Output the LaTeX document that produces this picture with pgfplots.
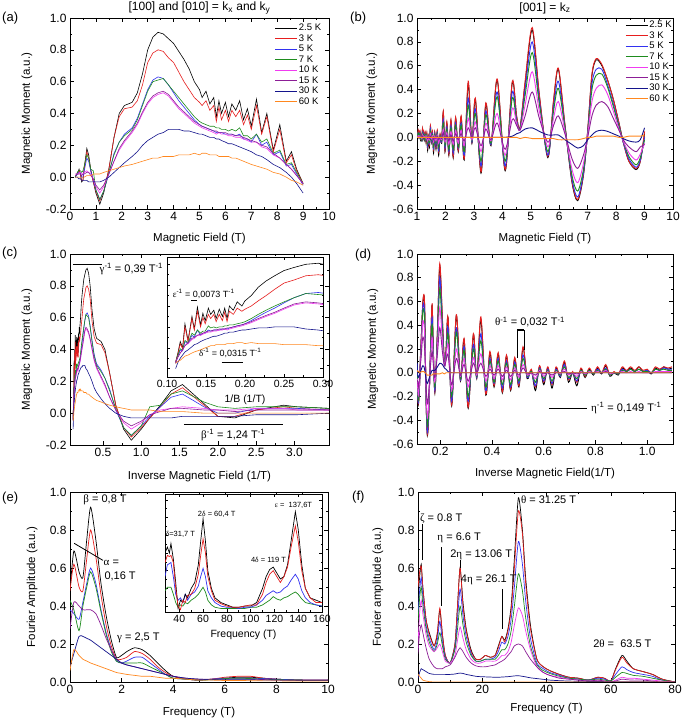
\documentclass[border=0pt]{standalone}
\usepackage{fontspec}
\setmainfont{Liberation Sans}
\newfontfamily\grk{Liberation Serif}
\usepackage{pgfplots}
\usepackage{pgfplotstable}
\pgfplotsset{compat=1.18}
\newcommand{\fs}[1]{\fontsize{#1bp}{#1bp}\selectfont}
\newcommand{\g}[1]{{\grk #1}}
\newcommand{\inv}{\textsuperscript{-1}}

\definecolor{cK}{RGB}{0,0,0}
\definecolor{cR}{RGB}{230,30,30}
\definecolor{cB}{RGB}{50,50,240}
\definecolor{cG}{RGB}{30,140,30}
\definecolor{cM}{RGB}{240,60,240}
\definecolor{cP}{RGB}{140,30,150}
\definecolor{cN}{RGB}{20,20,140}
\definecolor{cO}{RGB}{255,135,30}

\pgfplotsset{
  base/.style={
    scale only axis, axis background/.style={fill=white},
    tick align=inside, major tick length=4bp, minor tick length=2bp,
    tick style={black, line width=0.5bp}, axis line style={black, line width=0.6bp},
    tick label style={font=\fs{12}}, label style={font=\fs{11.5}},
    /pgf/number format/assume math mode=true,
    minor x tick num=1, minor y tick num=1,
    xlabel style={anchor=center}, ylabel style={anchor=center},
    legend cell align=left,
    legend style={draw=none, fill=none, font=\fs{9.5}, inner sep=0pt, row sep=0pt, nodes={inner sep=1.2bp}},
    legend image code/.code={\draw[##1, line width=0.8bp] (0bp,0bp) -- (22bp,0bp);},
  },
  yfix/.style={yticklabel style={/pgf/number format/fixed, /pgf/number format/fixed zerofill, /pgf/number format/precision=#1}},
  xfix/.style={xticklabel style={/pgf/number format/fixed, /pgf/number format/fixed zerofill, /pgf/number format/precision=#1}},
}

% field sweeps along [100]/[010]: B, 1/B, then 2.5,3,5,7,10,15,30,60 K
\pgfplotstableread{
B iB t1 t2 t3 t4 t5 t6 t7 t8
0.20 5.000 0.00 0.00 0.00 0.00 0.02 0.01 0.00 0.00
0.29 3.448 0.03 0.02 0.02 0.03 0.02 0.02 0.00 0.00
0.33 3.030 0.04 0.03 0.03 0.04 0.02 0.02 -0.01 0.00
0.35 2.857 0.05 0.04 0.03 0.04 0.03 0.02 -0.01 0.00
0.40 2.500 0.02 0.02 0.03 0.04 0.03 0.02 -0.01 0.00
0.45 2.222 -0.03 -0.02 0.00 0.03 0.02 0.01 -0.02 0.00
0.50 2.000 -0.02 -0.02 0.00 0.04 0.02 0.02 -0.02 0.00
0.55 1.818 0.06 0.05 0.04 0.07 0.03 0.02 -0.02 0.00
0.65 1.538 0.18 0.16 0.12 0.14 0.04 0.03 -0.02 0.01
0.72 1.389 0.14 0.12 0.10 0.12 0.03 0.03 -0.03 0.01
0.80 1.250 0.05 0.04 0.04 0.05 0.02 0.01 -0.03 0.01
0.90 1.111 -0.03 -0.03 -0.02 0.04 -0.01 -0.01 -0.03 0.02
1.00 1.000 -0.10 -0.09 -0.08 -0.08 -0.06 -0.05 -0.03 0.02
1.15 0.870 -0.17 -0.15 -0.14 -0.14 -0.10 -0.08 -0.03 0.02
1.30 0.769 -0.10 -0.09 -0.09 -0.09 -0.06 -0.05 -0.02 0.03
1.50 0.667 0.05 0.05 0.02 0.03 0.02 0.02 0.00 0.04
1.70 0.588 0.25 0.25 0.15 0.14 0.10 0.10 0.03 0.05
1.90 0.526 0.40 0.38 0.22 0.22 0.17 0.18 0.06 0.06
2.10 0.476 0.45 0.43 0.27 0.26 0.22 0.23 0.09 0.07
2.40 0.417 0.47 0.44 0.31 0.30 0.28 0.29 0.13 0.08
2.60 0.385 0.53 0.48 0.37 0.36 0.33 0.34 0.16 0.09
2.80 0.357 0.65 0.58 0.46 0.45 0.40 0.41 0.20 0.10
3.00 0.333 0.80 0.72 0.55 0.54 0.46 0.47 0.23 0.11
3.20 0.3125 0.88 0.78 0.61 0.60 0.50 0.51 0.25 0.12
3.40 0.294 0.91 0.80 0.63 0.61 0.52 0.53 0.27 0.12
3.60 0.278 0.90 0.79 0.62 0.62 0.53 0.54 0.28 0.13
3.80 0.263 0.87 0.75 0.58 0.58 0.51 0.52 0.30 0.13
4.00 0.250 0.84 0.72 0.53 0.54 0.47 0.48 0.30 0.13
4.20 0.238 0.79 0.66 0.48 0.50 0.43 0.44 0.30 0.14
4.40 0.227 0.74 0.60 0.44 0.46 0.40 0.41 0.29 0.14
4.60 0.217 0.68 0.55 0.40 0.42 0.37 0.38 0.29 0.14
4.80 0.208 0.60 0.50 0.36 0.38 0.34 0.35 0.28 0.15
5.00 0.200 0.55 0.47 0.33 0.35 0.32 0.33 0.27 0.14
5.10 0.196 0.50 0.45 0.32 0.34 0.31 0.32 0.27 0.15
5.25 0.190 0.54 0.48 0.31 0.33 0.30 0.31 0.26 0.15
5.40 0.185 0.46 0.42 0.30 0.32 0.29 0.30 0.25 0.14
5.55 0.180 0.50 0.45 0.29 0.32 0.28 0.29 0.25 0.14
5.65 0.177 0.38 0.35 0.28 0.31 0.27 0.29 0.24 0.14
5.75 0.174 0.48 0.44 0.28 0.31 0.28 0.28 0.24 0.13
5.85 0.171 0.40 0.36 0.28 0.30 0.27 0.28 0.23 0.13
6.00 0.167 0.47 0.42 0.27 0.30 0.27 0.28 0.22 0.13
6.12 0.163 0.38 0.35 0.27 0.29 0.26 0.27 0.21 0.13
6.25 0.160 0.46 0.42 0.27 0.30 0.26 0.27 0.21 0.12
6.40 0.156 0.42 0.38 0.26 0.29 0.25 0.26 0.20 0.12
6.55 0.153 0.48 0.42 0.27 0.31 0.25 0.26 0.19 0.11
6.70 0.149 0.36 0.33 0.24 0.26 0.24 0.25 0.18 0.10
6.85 0.146 0.43 0.39 0.24 0.26 0.23 0.24 0.17 0.09
7.00 0.143 0.32 0.30 0.22 0.24 0.22 0.23 0.16 0.08
7.20 0.139 0.49 0.45 0.27 0.27 0.22 0.22 0.14 0.07
7.40 0.135 0.28 0.27 0.20 0.22 0.19 0.20 0.13 0.06
7.60 0.132 0.40 0.38 0.22 0.24 0.18 0.19 0.11 0.05
7.85 0.127 0.17 0.16 0.14 0.15 0.14 0.15 0.08 0.03
8.10 0.123 0.33 0.30 0.16 0.17 0.12 0.12 0.06 0.02
8.35 0.120 0.10 0.09 0.07 0.08 0.08 0.08 0.03 0.00
8.55 0.117 0.16 0.14 0.08 0.09 0.05 0.05 0.00 -0.02
8.75 0.114 0.05 0.04 0.02 0.03 0.01 0.01 -0.04 -0.03
9.00 0.111 -0.04 -0.04 -0.05 -0.04 -0.04 -0.04 -0.10 -0.05
}\tabA

% field sweeps along [001]
\pgfplotstableread{
B iB t1 t2 t3 t4 t5 t6 t7 t8
0.912 1.096 0.04 0.05 0.03 0.02 0.01 0.00 0.00 0.00
0.925 1.080 0.03 0.04 0.03 0.02 0.01 0.00 0.00 0.00
0.940 1.064 0.05 0.05 0.04 0.03 0.01 0.00 0.00 0.00
0.954 1.048 0.02 0.03 0.02 0.02 0.01 0.00 0.00 0.00
0.969 1.032 0.04 0.05 0.03 0.03 0.01 0.00 0.00 0.00
0.984 1.016 -0.01 0.00 0.00 0.00 0.00 0.00 0.00 0.00
1.000 1.000 0.02 0.03 0.02 0.01 0.00 0.00 0.00 0.00
1.016 0.984 0.01 0.02 0.01 0.01 0.00 0.00 0.00 0.00
1.033 0.968 0.05 0.05 0.03 0.03 0.01 0.00 0.00 0.00
1.050 0.952 0.01 0.02 0.01 0.01 0.00 0.00 0.00 0.00
1.068 0.936 0.04 0.05 0.03 0.03 0.01 0.00 0.00 0.00
1.087 0.920 0.01 0.02 0.01 0.01 0.00 0.00 0.00 0.00
1.106 0.904 0.04 0.05 0.03 0.02 0.01 0.00 0.00 0.00
1.126 0.888 -0.02 -0.01 -0.01 -0.01 0.00 0.00 0.00 0.00
1.147 0.872 0.00 0.01 0.00 0.00 0.00 0.00 0.00 0.00
1.168 0.856 -0.03 -0.02 -0.02 -0.02 -0.01 0.00 0.00 0.00
1.190 0.840 0.06 0.07 0.04 0.03 0.02 0.01 0.00 0.00
1.214 0.824 -0.01 0.00 0.00 0.00 0.00 0.00 0.00 0.00
1.238 0.808 0.04 0.05 0.03 0.02 0.01 0.00 0.00 0.00
1.263 0.792 -0.02 -0.01 -0.01 -0.01 0.00 0.00 0.00 0.00
1.289 0.776 0.03 0.04 0.02 0.02 0.01 0.00 0.00 0.00
1.316 0.760 -0.04 -0.03 -0.02 -0.02 -0.01 0.00 0.00 0.00
1.344 0.744 0.03 0.04 0.02 0.02 0.01 0.00 0.00 0.00
1.374 0.728 -0.11 -0.08 -0.07 -0.05 -0.03 -0.01 0.00 0.00
1.404 0.712 0.00 0.01 0.00 0.00 0.00 0.00 0.00 0.00
1.437 0.696 -0.08 -0.06 -0.05 -0.04 -0.02 -0.01 0.00 0.00
1.471 0.680 0.09 0.10 0.07 0.05 0.03 0.01 0.00 0.00
1.506 0.664 -0.04 -0.03 -0.03 -0.02 -0.01 0.00 0.00 0.00
1.543 0.648 0.04 0.05 0.03 0.02 0.01 0.00 0.00 0.00
1.582 0.632 -0.13 -0.10 -0.09 -0.07 -0.04 -0.02 0.00 0.00
1.623 0.616 0.04 0.05 0.03 0.02 0.01 0.00 0.00 0.00
1.667 0.600 -0.10 -0.08 -0.07 -0.05 -0.03 -0.01 0.00 0.00
1.712 0.584 0.05 0.06 0.04 0.03 0.02 0.01 0.00 0.00
1.761 0.568 -0.15 -0.12 -0.11 -0.08 -0.05 -0.02 0.00 0.00
1.812 0.552 0.02 0.03 0.01 0.01 0.00 0.00 0.00 0.00
1.866 0.536 -0.05 -0.04 -0.04 -0.03 -0.02 -0.01 0.00 0.00
1.923 0.520 0.21 0.22 0.15 0.12 0.07 0.04 0.00 0.00
1.984 0.504 -0.12 -0.11 -0.09 -0.07 -0.04 -0.02 0.00 0.00
2.049 0.488 0.12 0.13 0.09 0.07 0.04 0.02 0.00 0.00
2.119 0.472 -0.15 -0.14 -0.12 -0.10 -0.06 -0.03 0.00 0.00
2.193 0.456 0.14 0.15 0.10 0.08 0.05 0.02 0.00 0.00
2.273 0.440 -0.17 -0.16 -0.13 -0.10 -0.06 -0.03 0.00 0.00
2.358 0.424 0.16 0.17 0.12 0.10 0.06 0.03 0.00 0.00
2.451 0.408 -0.12 -0.11 -0.09 -0.08 -0.05 -0.02 0.00 0.00
2.551 0.392 0.17 0.18 0.12 0.10 0.06 0.03 0.00 0.00
2.660 0.376 -0.19 -0.18 -0.15 -0.12 -0.07 -0.03 0.00 0.00
2.800 0.357 0.45 0.47 0.33 0.27 0.16 0.08 0.00 0.00
2.930 0.341 -0.05 -0.04 -0.04 -0.03 -0.02 0.00 0.00 0.00
3.050 0.328 0.32 0.33 0.24 0.20 0.13 0.08 0.00 0.00
3.250 0.308 -0.30 -0.29 -0.24 -0.20 -0.12 -0.07 0.00 0.00
3.420 0.292 0.28 0.29 0.22 0.19 0.12 0.07 0.00 0.00
3.600 0.278 -0.07 -0.06 -0.06 -0.05 -0.03 -0.02 0.00 0.00
3.820 0.262 0.48 0.49 0.38 0.34 0.20 0.12 0.00 0.00
4.100 0.244 -0.28 -0.27 -0.24 -0.20 -0.15 -0.10 0.00 0.00
4.350 0.230 0.46 0.47 0.38 0.33 0.24 0.15 0.01 0.00
4.500 0.222 0.18 0.18 0.15 0.13 0.12 0.10 0.03 0.00
4.620 0.216 0.08 0.08 0.07 0.07 0.06 0.06 0.04 -0.01
4.800 0.208 0.45 0.47 0.40 0.35 0.27 0.18 0.07 0.00
5.050 0.198 0.90 0.92 0.80 0.71 0.55 0.38 0.08 -0.01
5.300 0.189 0.35 0.36 0.31 0.28 0.22 0.16 0.05 -0.01
5.600 0.179 -0.17 -0.16 -0.15 -0.12 -0.08 -0.04 0.02 -0.01
5.800 0.172 0.30 0.31 0.25 0.22 0.16 0.10 0.02 -0.01
5.970 0.168 0.57 0.58 0.47 0.41 0.30 0.18 0.02 -0.02
6.200 0.161 0.10 0.11 0.09 0.08 0.05 0.03 -0.02 -0.02
6.450 0.155 -0.38 -0.37 -0.35 -0.32 -0.27 -0.18 -0.06 -0.02
6.650 0.150 -0.53 -0.52 -0.50 -0.45 -0.38 -0.26 -0.09 -0.02
6.850 0.146 -0.32 -0.31 -0.30 -0.27 -0.22 -0.15 -0.07 -0.01
7.000 0.143 0.05 0.06 0.04 0.03 0.02 0.00 -0.02 0.00
7.150 0.140 0.52 0.53 0.45 0.40 0.30 0.18 0.02 0.00
7.300 0.137 0.65 0.66 0.57 0.52 0.41 0.27 0.05 0.01
7.500 0.133 0.60 0.61 0.57 0.53 0.44 0.30 0.06 0.01
7.700 0.130 0.48 0.48 0.44 0.42 0.36 0.26 0.05 0.01
7.900 0.127 0.32 0.32 0.28 0.26 0.22 0.16 0.03 0.01
8.100 0.123 0.12 0.12 0.10 0.09 0.07 0.06 0.01 0.00
8.250 0.121 -0.04 -0.04 -0.04 -0.03 -0.03 -0.02 -0.01 0.00
8.450 0.118 -0.20 -0.20 -0.18 -0.16 -0.13 -0.08 -0.03 0.01
8.700 0.115 -0.27 -0.26 -0.25 -0.23 -0.19 -0.12 -0.04 0.01
8.850 0.113 -0.20 -0.20 -0.19 -0.17 -0.14 -0.08 -0.02 0.01
9.000 0.111 0.03 0.05 0.00 -0.02 -0.05 -0.06 0.08 0.02
}\tabB

% FFT [100]: black red blue green purple navy orange
\pgfplotstableread{
x k1 k2 k3 k4 k5 k6 k7
0.00 0.48 0.48 0.38 0.43 0.28 0.08 0.06
0.15 0.69 0.62 0.36 0.38 0.42 0.15 0.17
0.35 0.58 0.50 0.33 0.27 0.40 0.24 0.14
0.50 0.55 0.48 0.42 0.40 0.38 0.24 0.12
0.65 0.75 0.65 0.52 0.50 0.38 0.23 0.11
0.80 0.92 0.80 0.60 0.58 0.38 0.22 0.10
1.00 0.75 0.66 0.52 0.50 0.36 0.20 0.09
1.20 0.52 0.46 0.38 0.37 0.30 0.18 0.08
1.40 0.35 0.30 0.26 0.25 0.23 0.16 0.07
1.60 0.22 0.19 0.17 0.16 0.17 0.14 0.06
1.80 0.13 0.12 0.11 0.11 0.12 0.12 0.05
2.00 0.14 0.12 0.10 0.10 0.10 0.10 0.045
2.20 0.16 0.13 0.11 0.10 0.09 0.09 0.04
2.50 0.18 0.16 0.13 0.10 0.08 0.08 0.035
2.80 0.17 0.15 0.13 0.10 0.07 0.07 0.03
3.10 0.14 0.12 0.10 0.08 0.06 0.06 0.03
3.40 0.10 0.08 0.07 0.06 0.05 0.05 0.025
3.70 0.06 0.05 0.04 0.04 0.04 0.04 0.02
4.00 0.03 0.03 0.02 0.02 0.03 0.03 0.02
4.50 0.015 0.015 0.015 0.015 0.02 0.02 0.015
5.00 0.01 0.01 0.01 0.01 0.015 0.015 0.01
5.50 0.015 0.015 0.015 0.012 0.015 0.012 0.01
6.00 0.02 0.025 0.02 0.018 0.015 0.012 0.008
6.50 0.025 0.03 0.02 0.02 0.015 0.012 0.008
7.00 0.025 0.03 0.02 0.018 0.015 0.012 0.007
7.50 0.02 0.02 0.018 0.015 0.013 0.01 0.006
8.00 0.015 0.015 0.015 0.012 0.01 0.01 0.006
9.00 0.01 0.01 0.01 0.01 0.01 0.008 0.005
10.0 0.01 0.01 0.01 0.01 0.01 0.008 0.005
}\tabE

% FFT inset, high frequencies: black red blue green
\pgfplotstableread{
x k1 k2 k3 k4
28 0.50 0.42 0.30 0.18
30 0.55 0.48 0.40 0.21
31.7 0.50 0.47 0.41 0.21
33 0.58 0.48 0.42 0.21
35 0.45 0.42 0.30 0.15
37 0.25 0.20 0.15 0.08
39 0.03 0.05 0.10 0.04
41 0.10 0.02 0.12 0.06
43 0.08 0.10 0.08 0.05
45 0.15 0.08 0.15 0.08
47 0.12 0.14 0.10 0.07
50 0.20 0.15 0.15 0.10
53 0.25 0.20 0.17 0.12
56 0.40 0.32 0.22 0.15
58 0.60 0.48 0.30 0.18
60 0.79 0.62 0.37 0.21
62 0.60 0.50 0.30 0.17
64 0.35 0.30 0.18 0.10
67 0.20 0.18 0.12 0.06
70 0.12 0.10 0.08 0.04
75 0.08 0.07 0.05 0.03
80 0.06 0.05 0.04 0.03
85 0.04 0.04 0.04 0.03
90 0.04 0.04 0.03 0.03
95 0.05 0.05 0.04 0.03
100 0.05 0.06 0.04 0.04
105 0.08 0.06 0.06 0.04
110 0.20 0.15 0.10 0.06
113 0.30 0.25 0.14 0.08
116 0.36 0.32 0.16 0.10
119 0.38 0.35 0.18 0.13
122 0.33 0.30 0.16 0.11
125 0.28 0.25 0.17 0.10
128 0.30 0.30 0.20 0.12
131 0.40 0.38 0.22 0.13
134 0.60 0.55 0.27 0.15
137.6 0.85 0.73 0.32 0.17
140 0.70 0.60 0.28 0.15
143 0.40 0.35 0.18 0.11
146 0.20 0.20 0.12 0.08
150 0.12 0.12 0.08 0.07
155 0.10 0.08 0.06 0.06
160 0.08 0.08 0.05 0.05
}\tabEi

% FFT [001]: black red blue green magenta purple navy orange
\pgfplotstableread{
x k1 k2 k3 k4 k5 k6 k7 k8
0.0 0.45 0.50 0.35 0.32 0.20 0.15 0.02 0.04
0.5 0.55 0.58 0.48 0.44 0.36 0.26 0.05 0.03
1.0 0.62 0.61 0.55 0.50 0.43 0.30 0.07 0.02
1.5 0.50 0.50 0.45 0.41 0.36 0.26 0.065 0.01
2.5 0.33 0.33 0.30 0.28 0.25 0.18 0.055 0.005
3.5 0.26 0.25 0.23 0.21 0.19 0.12 0.045 0.002
5.0 0.19 0.19 0.17 0.16 0.16 0.08 0.04 0
6.0 0.25 0.26 0.22 0.20 0.18 0.07 0.04 0
6.8 0.38 0.39 0.32 0.26 0.20 0.07 0.04 0
7.6 0.25 0.25 0.21 0.19 0.16 0.07 0.04 0
8.5 0.14 0.14 0.13 0.12 0.11 0.08 0.04 0
10 0.10 0.10 0.10 0.10 0.10 0.09 0.04 0
11.5 0.20 0.20 0.18 0.17 0.14 0.13 0.042 0
12.3 0.40 0.40 0.33 0.28 0.22 0.16 0.045 0
13.1 0.60 0.60 0.49 0.40 0.29 0.18 0.047 0
14 0.42 0.40 0.35 0.30 0.23 0.16 0.045 0
15 0.28 0.27 0.24 0.21 0.17 0.13 0.04 0
16.5 0.17 0.16 0.15 0.14 0.12 0.10 0.035 0
18 0.12 0.12 0.11 0.11 0.10 0.085 0.03 0
19.5 0.12 0.12 0.11 0.11 0.10 0.08 0.028 0
21 0.14 0.14 0.12 0.12 0.11 0.08 0.027 0
22.5 0.13 0.13 0.12 0.12 0.11 0.085 0.026 0
24 0.14 0.14 0.13 0.12 0.11 0.09 0.025 0
25 0.19 0.18 0.16 0.14 0.12 0.10 0.025 0
26.1 0.24 0.24 0.21 0.17 0.14 0.11 0.026 0
27 0.22 0.21 0.20 0.17 0.14 0.12 0.027 0
28 0.28 0.27 0.24 0.20 0.16 0.14 0.028 0
29 0.40 0.38 0.33 0.27 0.21 0.16 0.03 0
30 0.65 0.60 0.50 0.40 0.30 0.19 0.032 0
31.25 0.97 0.90 0.74 0.57 0.39 0.20 0.033 0
32.5 0.80 0.78 0.62 0.48 0.35 0.19 0.03 0
33.5 0.55 0.52 0.43 0.34 0.27 0.16 0.027 0
35 0.30 0.28 0.23 0.19 0.17 0.12 0.022 0
37 0.12 0.12 0.10 0.09 0.08 0.08 0.018 0
39 0.08 0.08 0.07 0.06 0.05 0.05 0.014 0
41 0.06 0.06 0.05 0.045 0.035 0.035 0.01 0
44 0.04 0.04 0.035 0.03 0.025 0.02 0.007 0
47 0.025 0.025 0.02 0.02 0.015 0.015 0.005 0
50 0.02 0.02 0.015 0.015 0.01 0.01 0.004 0
53 0.01 0.01 0.01 0.01 0.005 0.005 0.003 0
56 0.025 0.025 0.02 0.015 0.01 0.01 0.003 0
58 0.02 0.02 0.015 0.01 0.005 0.005 0.002 0
60 0.005 0.005 0.005 0.005 0 0 0.002 0
61.5 0.07 0.065 0.04 0.025 0.01 0.005 0.002 0
63.5 0.14 0.13 0.08 0.05 0.025 0.015 0.002 0
65 0.11 0.10 0.065 0.045 0.02 0.012 0.002 0
67 0.07 0.07 0.05 0.035 0.02 0.01 0.001 0
70 0.055 0.055 0.04 0.03 0.015 0.01 0.001 0
73 0.04 0.04 0.03 0.02 0.01 0.005 0.001 0
76 0.015 0.015 0.01 0.01 0.005 0 0 0
80 0 0 0 0 0 0 0 0
}\tabF

\begin{document}
\begin{tikzpicture}[x=1bp,y=1bp]
\useasboundingbox (0,0) rectangle (685,722);

% ---------------- (a)
\begin{axis}[base, yfix=1, at={(70bp,513bp)}, anchor=south west, width=259bp, height=191bp,
  xmin=0, xmax=10, ymin=-0.2, ymax=1.0, xtick={0,1,2,3,4,5,6,7,8,9,10},
  ytick={-0.2,0,0.2,0.4,0.6,0.8,1.0},
  xlabel={Magnetic Field (T)}, ylabel={Magnetic Moment (a.u.)},
  xlabel style={at={(axis description cs:0.5,-0.155)}}, ylabel style={at={(axis description cs:-0.166,0.5)}},
  legend style={at={(axis description cs:0.975,0.975)}, anchor=north east},
  every axis plot/.append style={line width=0.6bp}]
\addplot[cK] table[x=B,y=t1]{\tabA};
\addplot[cR] table[x=B,y=t2]{\tabA};
\addplot[cB] table[x=B,y=t3]{\tabA};
\addplot[cG] table[x=B,y=t4]{\tabA};
\addplot[cM] table[x=B,y=t5]{\tabA};
\addplot[cP] table[x=B,y=t6]{\tabA};
\addplot[cN] table[x=B,y=t7]{\tabA};
\addplot[cO] table[x=B,y=t8]{\tabA};
\legend{2.5 K,3 K,5 K,7 K,10 K,15 K,30 K,60 K}
\end{axis}

% ---------------- (b)
\begin{axis}[base, yfix=1, at={(417bp,513bp)}, anchor=south west, width=256bp, height=191bp,
  xmin=1, xmax=10, ymin=-0.6, ymax=1.0, xtick={1,2,3,4,5,6,7,8,9,10},
  ytick={-0.6,-0.4,-0.2,0,0.2,0.4,0.6,0.8,1.0},
  xlabel={Magnetic Field (T)}, ylabel={Magnetic Moment (a.u.)},
  xlabel style={at={(axis description cs:0.5,-0.155)}}, ylabel style={at={(axis description cs:-0.176,0.5)}},
  legend style={at={(axis description cs:1.0,0.99)}, anchor=north east},
  every axis plot/.append style={line width=0.9bp, smooth, tension=0.5}]
\addplot[cK] table[x=B,y=t1]{\tabB};
\addplot[cR] table[x=B,y=t2]{\tabB};
\addplot[cB] table[x=B,y=t3]{\tabB};
\addplot[cG] table[x=B,y=t4]{\tabB};
\addplot[cM] table[x=B,y=t5]{\tabB};
\addplot[cP] table[x=B,y=t6]{\tabB};
\addplot[cN] table[x=B,y=t7]{\tabB};
\addplot[cO] table[x=B,y=t8]{\tabB};
\legend{2.5 K,3 K,5 K,7 K,10 K,15 K,30 K,60 K}
\end{axis}

% ---------------- (c)
\begin{axis}[base, yfix=1, xfix=1, at={(70bp,277bp)}, anchor=south west, width=259bp, height=191bp,
  xmin=0.07, xmax=3.45, ymin=-0.2, ymax=1.0, xtick={0.5,1.0,1.5,2.0,2.5,3.0},
  ytick={-0.2,0,0.2,0.4,0.6,0.8,1.0},
  xlabel={Inverse Magnetic Field (1/T)}, ylabel={Magnetic Moment (a.u.)},
  xlabel style={at={(axis description cs:0.5,-0.163)}}, ylabel style={at={(axis description cs:-0.166,0.5)}},
  every axis plot/.append style={line width=0.6bp}]
\addplot[cK] table[x=iB,y=t1]{\tabA};
\addplot[cR] table[x=iB,y=t2]{\tabA};
\addplot[cB] table[x=iB,y=t3]{\tabA};
\addplot[cG] table[x=iB,y=t4]{\tabA};
\addplot[cM] table[x=iB,y=t5]{\tabA};
\addplot[cP] table[x=iB,y=t6]{\tabA};
\addplot[cN] table[x=iB,y=t7]{\tabA};
\addplot[cO] table[x=iB,y=t8]{\tabA};
\draw[line width=0.8bp] (axis cs:0.108,0.937) -- (axis cs:0.487,0.937);
\node[font=\fs{11}] at (axis cs:0.87,0.905) {\g{γ}\inv\ = 0,39 T\inv};
\draw[line width=0.8bp] (axis cs:1.557,-0.068) -- (axis cs:2.85,-0.068);
\node[font=\fs{11}] at (axis cs:2.2,-0.137) {\g{β}\inv\ = 1,24 T\inv};
\end{axis}

% (c) inset
\begin{axis}[base, xfix=2, at={(167bp,345bp)}, anchor=south west, width=156bp, height=120bp,
  xmin=0.1, xmax=0.3, ymin=-0.18, ymax=0.97, xtick={0.10,0.15,0.20,0.25,0.30},
  ytick={-0.1,0.1,0.3,0.5,0.7,0.9}, yticklabels={},
  major tick length=3bp, minor tick length=1.5bp,
  tick label style={font=\fs{10.5}}, label style={font=\fs{10.5}},
  xlabel={1/B (1/T)}, xlabel style={at={(axis description cs:0.5,-0.19)}},
  every axis plot/.append style={line width=0.6bp}]
\addplot[cK] table[x=iB,y=t1]{\tabA};
\addplot[cR] table[x=iB,y=t2]{\tabA};
\addplot[cB] table[x=iB,y=t3]{\tabA};
\addplot[cG] table[x=iB,y=t4]{\tabA};
\addplot[cM] table[x=iB,y=t5]{\tabA};
\addplot[cP] table[x=iB,y=t6]{\tabA};
\addplot[cN] table[x=iB,y=t7]{\tabA};
\addplot[cO] table[x=iB,y=t8]{\tabA};
\node[font=\fs{9}] at (axis cs:0.147,0.62) {\g{ε}\inv\ = 0,0073 T\inv};
\draw[line width=1.2bp] (axis cs:0.131,0.55) -- (axis cs:0.139,0.55);
\node[font=\fs{9}] at (axis cs:0.181,0.05) {\g{δ}\inv\ = 0,0315 T\inv};
\draw[line width=1.2bp] (axis cs:0.17,-0.04) -- (axis cs:0.198,-0.04);
\end{axis}

% ---------------- (d)
\begin{axis}[base, yfix=1, xfix=1, at={(417bp,278bp)}, anchor=south west, width=256bp, height=190bp,
  xmin=0.11, xmax=1.1, ymin=-0.6, ymax=1.0, xtick={0.2,0.4,0.6,0.8,1.0},
  ytick={-0.6,-0.4,-0.2,0,0.2,0.4,0.6,0.8,1.0},
  xlabel={Inverse Magnetic Field(1/T)}, ylabel={Magnetic Moment (a.u.)},
  xlabel style={at={(axis description cs:0.5,-0.153)}}, ylabel style={at={(axis description cs:-0.172,0.5)}},
  every axis plot/.append style={line width=0.9bp, smooth, tension=0.5}]
\addplot[cK] table[x=iB,y=t1]{\tabB};
\addplot[cR] table[x=iB,y=t2]{\tabB};
\addplot[cB] table[x=iB,y=t3]{\tabB};
\addplot[cG] table[x=iB,y=t4]{\tabB};
\addplot[cM] table[x=iB,y=t5]{\tabB};
\addplot[cP] table[x=iB,y=t6]{\tabB};
\addplot[cN] table[x=iB,y=t7]{\tabB};
\addplot[cO] table[x=iB,y=t8]{\tabB};
\node[font=\fs{11}] at (axis cs:0.547,0.427) {\g{θ}\inv\ = 0,032 T\inv};
\draw[line width=0.5bp] (axis cs:0.497,0.124) -- (axis cs:0.497,0.36);
\draw[line width=0.5bp] (axis cs:0.524,0.19) -- (axis cs:0.524,0.36);
\draw[line width=1.2bp] (axis cs:0.497,0.36) -- (axis cs:0.524,0.36);
\draw[line width=0.8bp] (axis cs:0.62,-0.30) -- (axis cs:0.767,-0.30);
\node[font=\fs{11}, anchor=west] at (axis cs:0.77,-0.30) {\g{η}\inv\ = 0,149 T\inv};
\end{axis}

% ---------------- (e)
\begin{axis}[base, yfix=1, at={(70bp,40bp)}, anchor=south west, width=258bp, height=190bp,
  xmin=0, xmax=10, ymin=0, ymax=1.0, xtick={0,2,4,6,8,10},
  ytick={0,0.2,0.4,0.6,0.8,1.0},
  xlabel={Frequency (T)}, ylabel={Fourier Amplitude (a.u.)},
  xlabel style={at={(axis description cs:0.5,-0.163)}}, ylabel style={at={(axis description cs:-0.147,0.5)}},
  every axis plot/.append style={line width=0.7bp, smooth, tension=0.4}]
\addplot[cK] table[x=x,y=k1]{\tabE};
\addplot[cR] table[x=x,y=k2]{\tabE};
\addplot[cB] table[x=x,y=k3]{\tabE};
\addplot[cG] table[x=x,y=k4]{\tabE};
\addplot[cP] table[x=x,y=k5]{\tabE};
\addplot[cN] table[x=x,y=k6]{\tabE};
\addplot[cO] table[x=x,y=k7]{\tabE};
\node[font=\fs{11}] at (axis cs:1.36,0.96) {\g{β} = 0,8 T};
\draw[line width=0.8bp] (axis cs:0.16,0.73) -- (axis cs:1.28,0.64);
\node[font=\fs{11}, anchor=west, inner sep=0pt] at (axis cs:1.3,0.625) {\g{α} =};
\node[font=\fs{11}, anchor=west, inner sep=0pt] at (axis cs:1.33,0.555) {0,16 T};
\node[font=\fs{11}] at (axis cs:2.65,0.235) {\g{γ} = 2,5 T};
\end{axis}

% (e) inset
\begin{axis}[base, at={(165bp,110bp)}, anchor=south west, width=157bp, height=118bp,
  xmin=28, xmax=160, ymin=0, ymax=1, xtick={40,60,80,100,120,140,160},
  ytick={0.05,0.2,0.35,0.5,0.65,0.8,0.95}, yticklabels={},
  major tick length=3bp, minor tick length=1.5bp,
  tick label style={font=\fs{10.5}}, label style={font=\fs{10.5}},
  xlabel={Frequency (T)}, xlabel style={at={(axis description cs:0.5,-0.19)}},
  every axis plot/.append style={line width=0.7bp}]
\addplot[cG] table[x=x,y=k4]{\tabEi};
\addplot[cB] table[x=x,y=k3]{\tabEi};
\addplot[cK] table[x=x,y=k1]{\tabEi};
\addplot[cR] table[x=x,y=k2]{\tabEi};
\node[font=\fs{7.5}, anchor=west, inner sep=0pt] at (axis cs:28.5,0.66) {\g{δ}=31,7 T};
\node[font=\fs{7.5}] at (axis cs:71.5,0.83) {2\g{δ} = 60,4 T};
\node[font=\fs{7.5}] at (axis cs:115,0.44) {4\g{δ} = 119 T};
\node[font=\fs{7.5}] at (axis cs:136,0.9) {\g{ε} = \ 137,6T};
\end{axis}

% ---------------- (f)
\begin{axis}[base, yfix=1, at={(418bp,40bp)}, anchor=south west, width=257bp, height=190bp,
  xmin=0, xmax=80, ymin=0, ymax=1.0, xtick={0,20,40,60,80},
  ytick={0,0.2,0.4,0.6,0.8,1.0},
  xlabel={Frequency (T)}, ylabel={Fourier amplitude (a.u.)},
  xlabel style={at={(axis description cs:0.5,-0.14)}}, ylabel style={at={(axis description cs:-0.156,0.5)}},
  every axis plot/.append style={line width=0.7bp, smooth, tension=0.4}]
\addplot[cK] table[x=x,y=k1]{\tabF};
\addplot[cR] table[x=x,y=k2]{\tabF};
\addplot[cB] table[x=x,y=k3]{\tabF};
\addplot[cG] table[x=x,y=k4]{\tabF};
\addplot[cM] table[x=x,y=k5]{\tabF};
\addplot[cP] table[x=x,y=k6]{\tabF};
\addplot[cN] table[x=x,y=k7]{\tabF};
\addplot[cO] table[x=x,y=k8]{\tabF};
\draw[line width=0.5bp] (axis cs:1.2,0.83) -- (axis cs:1.2,0.64);
\draw[line width=0.5bp] (axis cs:7.2,0.71) -- (axis cs:7.2,0.40);
\draw[line width=0.5bp] (axis cs:13.3,0.64) -- (axis cs:13.3,0.60);
\draw[line width=0.5bp] (axis cs:26.3,0.49) -- (axis cs:26.3,0.28);
\node[font=\fs{11}, anchor=west, inner sep=0pt] at (axis cs:0.6,0.86) {\g{ζ} = 0.8 T};
\node[font=\fs{11}, anchor=west, inner sep=0pt] at (axis cs:6.0,0.76) {\g{η} = 6.6 T};
\node[font=\fs{11}, anchor=west, inner sep=0pt] at (axis cs:10.0,0.67) {2\g{η} = 13.06 T};
\node[font=\fs{11}, anchor=west, inner sep=0pt] at (axis cs:13.3,0.54) {4\g{η} = 26.1 T};
\node[font=\fs{11}, anchor=west, inner sep=0pt] at (axis cs:32.0,0.96) {\g{θ} = 31.25 T};
\node[font=\fs{11}, anchor=west, inner sep=0pt] at (axis cs:54.5,0.20) {2\g{θ} = \ 63.5 T};
\end{axis}

% titles and panel labels
\node[font=\fs{12}] at (199.5,714) {[100] and [010] = k\textsubscript{x} and k\textsubscript{y}};
\node[font=\fs{12}] at (545,714) {[001] = k\textsubscript{z}};
\node[font=\fs{13}, anchor=west, inner sep=0pt] at (2,704) {(a)};
\node[font=\fs{13}, anchor=west, inner sep=0pt] at (350,704) {(b)};
\node[font=\fs{13}, anchor=west, inner sep=0pt] at (2,469) {(c)};
\node[font=\fs{13}, anchor=west, inner sep=0pt] at (355,467) {(d)};
\node[font=\fs{13}, anchor=west, inner sep=0pt] at (2,224) {(e)};
\node[font=\fs{13}, anchor=west, inner sep=0pt] at (352,225) {(f)};
\end{tikzpicture}
\end{document}
